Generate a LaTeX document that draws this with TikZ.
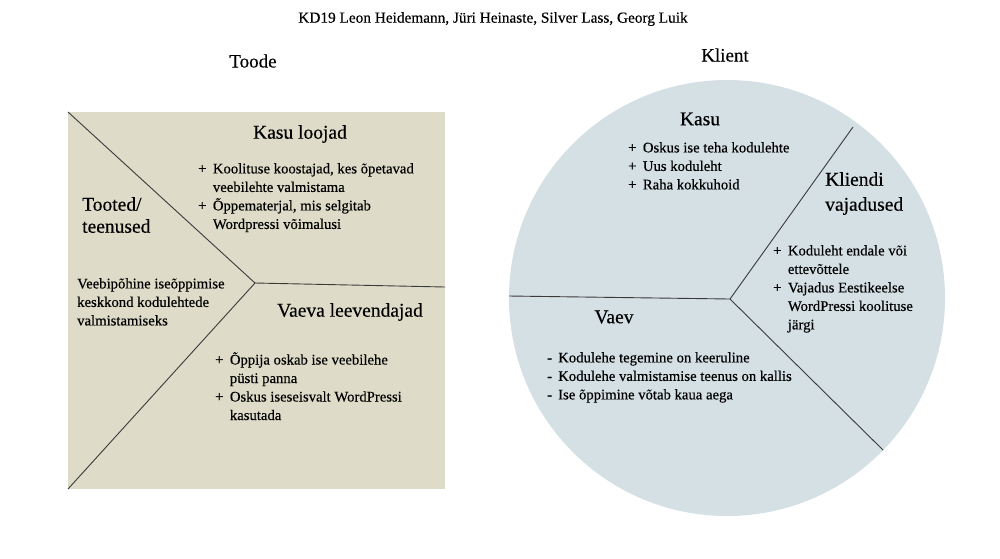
\documentclass[tikz,border=0pt]{standalone}
\usepackage{fontspec}
\setmainfont{Liberation Serif}[FakeBold=0.35]
\usepackage{tikz}
\usetikzlibrary{positioning}
\definecolor{toodefill}{HTML}{DEDCC8}
\definecolor{klientfill}{HTML}{D4E0E4}
\definecolor{jooned}{HTML}{3A3A3A}
\newcommand{\pl}{\makebox[1em][l]{+}}
\newcommand{\mi}{\makebox[0.75em][l]{-}}
\newcommand{\ind}{\hspace*{1em}}
\tikzset{%
    % pealkirjad ja loendid
    head/.style  = {inner sep=0pt, font=\fontsize{19.5}{22}\selectfont},
    top/.style   = {inner sep=0pt, font=\fontsize{19}{22}\selectfont},
    items/.style = {inner sep=0pt, align=left, anchor=north west,
    font=\fontsize{14.7}{18.5}\selectfont},
    divider/.style = {draw=jooned, line width=0.9pt}
}
\begin{document}
\begin{tikzpicture}[x=1pt, y=-1pt]
	\useasboundingbox (0,0) rectangle (1000,558);

	% pealkiri
	\node[inner sep=0pt, font=\fontsize{15.3}{17}\selectfont] (title) at (493,19) {KD19 Leon Heidemann, Jüri Heinaste, Silver Lass, Georg Luik};
	\node[top] (toode) at (253,61) {Toode};
	\node[top] (klient) at (725,55) {Klient};

	% toode: ruut
	\fill[toodefill] (68,112) rectangle (445,489);
	\coordinate (tip) at (255,283);
	\draw[divider] (68,112) -- (tip) -- (68,489);
	\draw[divider] (tip) -- (445,287);

	\node[head] (kasuloojad) at (300,134) {Kasu loojad};
	\node[items] (kasuloojadlist) at (198,163) {\pl Koolituse koostajad, kes õpetavad\\
		\ind veebilehte valmistama\\
		\pl Õppematerjal, mis selgitab\\
		\ind Wordpressi võimalusi};
	\node[head, align=left, anchor=north west] (tooted) at (82,197) {Tooted/\\teenused};
	\node[items] (keskkond) at (77,278) {Veebipõhine iseõppimise\\
		keskkond kodulehtede\\
		valmistamiseks};
	\node[head] (vaevaleev) at (350,312) {Vaeva leevendajad};
	\node[items] (vaevaleevlist) at (215,352) {\pl Õppija oskab ise veebilehe\\
		\ind püsti panna\\
		\pl Oskus iseseisvalt WordPressi\\
		\ind kasutada};

	% klient: ring
	\fill[klientfill] (727,298) circle (218);
	\coordinate (center) at (730,299);
	\draw[divider] (509,296) -- (center) -- (853,127);
	\draw[divider] (center) -- (883,450);

	\node[head] (kasu) at (700,119) {Kasu};
	\node[items] (kasulist) at (628,142) {\pl Oskus ise teha kodulehte\\
		\pl Uus koduleht\\
		\pl Raha kokkuhoid};
	\node[head, align=left, anchor=north west, font=\fontsize{19.5}{25}\selectfont] (vajadused) at (825,172) {Kliendi\\vajadused};
	\node[items] (vajaduslist) at (773,245) {\pl Koduleht endale või\\
		\ind ettevõttele\\
		\pl Vajadus Eestikeelse\\
		\ind WordPressi koolituse\\
		\ind järgi};
	\node[head] (vaev) at (614,317) {Vaev};
	\node[items] (vaevlist) at (547,352) {\mi Kodulehe tegemine on keeruline\\
		\mi Kodulehe valmistamise teenus on kallis\\
		\mi Ise õppimine võtab kaua aega};

\end{tikzpicture}
\end{document}
